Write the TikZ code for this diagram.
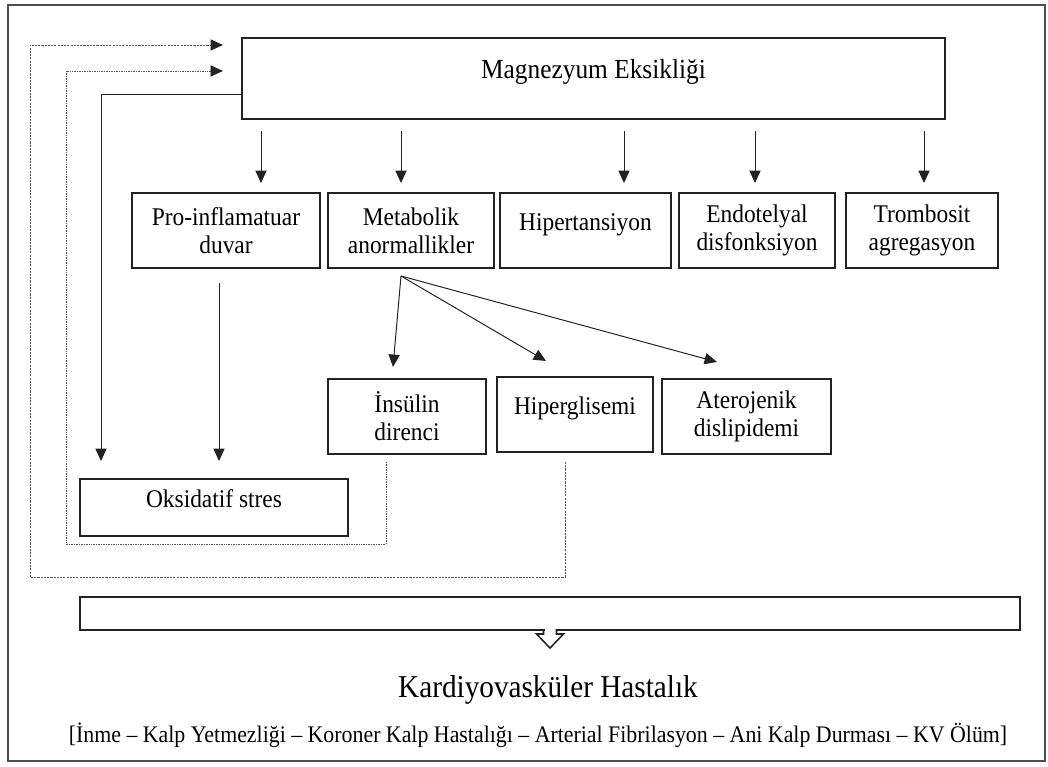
\documentclass[tikz,border=0pt]{standalone}
\usepackage{fontspec}
\setmainfont{Liberation Serif}[FakeStretch=0.92]
\usetikzlibrary{arrows.meta,calc}
\definecolor{ink}{HTML}{222222}
\definecolor{dots}{HTML}{555555}
\begin{document}
\begin{tikzpicture}[x=0.025cm,y=-0.025cm,
    box/.style={draw=ink,line width=1.3pt,outer sep=0pt,inner sep=2pt,align=center,
      minimum height=1.875cm,font=\fontsize{18.1}{20}\selectfont},
    single/.style={text height=2ex,text depth=2ex},
    arr/.style={draw=ink,line width=0.7pt,-{Triangle[length=0.31cm,width=0.28cm,color=ink]}},
    inloop/.style={arr,draw=dots,line width=0.6pt,dash pattern=on 0.6pt off 0.6pt},
    outloop/.style={arr,draw=dots,line width=0.7pt,dash pattern=on 1.5pt off 0.8pt}]
  \useasboundingbox (0,0) rectangle (1048,767);
  \draw[ink!80,line width=1.4pt] (8,5) rectangle (1045,761);
  \draw
    (593.5,78.5) node[box,single,minimum width=17.575cm,minimum height=2.025cm,
      font=\fontsize{19.6}{22}\selectfont] (mg) {Magnezyum Eksikliği}
    (226,230.5) node[box,minimum width=4.7cm] (pro) {Pro-inflamatuar\\duvar}
    (411,230.5) node[box,minimum width=4.15cm] (meta) {Metabolik\\anormallikler}
    (585.5,230.5) node[box,single,minimum width=4.275cm] (hip) {Hipertansiyon}
    (757,230.5) node[box,minimum width=3.9cm] (endo) {Endotelyal\\disfonksiyon}
    (922,230.5) node[box,minimum width=3.8cm] (trom) {Trombosit\\agregasyon}
    (407,416.5) node[box,minimum width=3.95cm] (ins) {İnsülin\\direnci}
    (575,414.5) node[box,single,minimum width=3.9cm] (hg) {Hiperglisemi}
    (746.5,416.5) node[box,minimum width=4.225cm] (ath) {Aterojenik\\dislipidemi}
    (214,507.5) node[box,single,minimum width=6.7cm,minimum height=1.425cm] (oks) {Oksidatif stres}
    (550,613.5) node[box,minimum width=23.5cm,minimum height=0.825cm] (bar) {}
    (548,697) node[anchor=base,font=\fontsize{22.6}{26}\selectfont] (kvh) {Kardiyovasküler Hastalık}
    (538,742) node[anchor=base,font=\fontsize{16.9}{19}\selectfont] (kvl)
      {[İnme – Kalp Yetmezliği – Koroner Kalp Hastalığı – Arterial Fibrilasyon – Ani Kalp Durması – KV Ölüm]};
  \coordinate (fan) at ($(meta.south)+(-10,8)$);
  \coordinate (inner) at (66,544);
  \coordinate (outer) at (30,577);
  \begin{scope}[arr,shorten <=0.3cm,shorten >=0.25cm]
    \draw (mg.south -| 261,0) to (pro.north -| 261,0);
    \draw (mg.south -| 401,0) to (meta.north -| 401,0);
    \draw (mg.south -| 624,0) to (hip.north -| 624,0);
    \draw (mg.south -| 755,0) to (endo.north -| 755,0);
    \draw (mg.south -| 924,0) to (trom.north -| 924,0);
  \end{scope}
  \begin{scope}[arr]
    \draw (fan) to ($(ins.north)+(-14,-12)$);
    \draw (fan) to ($(hg.north)+(-29,-16)$);
    \draw (fan) to ($(ath.north)+(-29.5,-17)$);
    \draw[shorten <=0.375cm,shorten >=0.45cm] (pro.south -| 219,0) to (oks.north -| 219,0);
    \draw ($(mg.west)+(0,15.5)$) -| ($(oks.north -| 101,0)+(0,-18)$);
  \end{scope}
  % feedback loops
  \draw[inloop] ($(ins.south)+(-21,8)$) |- (inner) |- ($(mg.west)+(-19,-7.5)$);
  \draw[outloop] ($(hg.south)+(-10,10)$) |- (outer) |- ($(mg.west)+(-19,-33.5)$);
  % open arrow under the bar
  \fill[white] ($(bar.south)+(-5.5,-2)$) rectangle ($(bar.south)+(5.5,2)$);
  \draw[ink,line width=1.1pt] ($(bar.south)+(-6.5,-1)$) -- ++(0,5) -- ++(-7,0)
    -- ++(13.5,14) -- ++(13.5,-14) -- ++(-7,0) -- ++(0,-5);
\end{tikzpicture}
\end{document}
